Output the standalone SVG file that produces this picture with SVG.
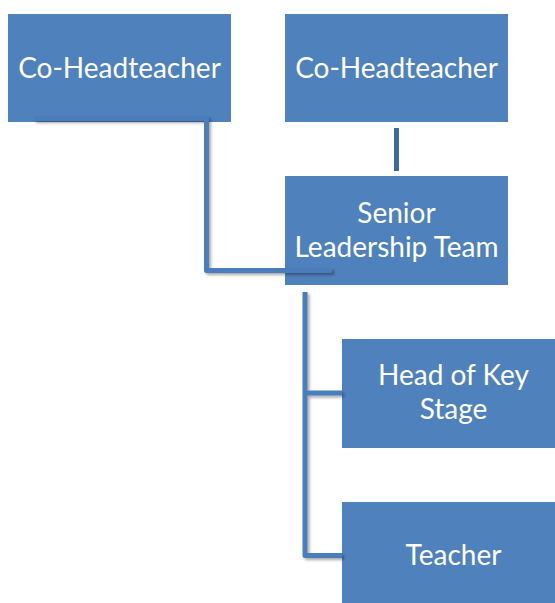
<svg xmlns="http://www.w3.org/2000/svg" width="555" height="603" viewBox="0 0 555 603">
<defs>
<filter id="sh" x="-20%" y="-20%" width="140%" height="140%">
<feGaussianBlur in="SourceAlpha" stdDeviation="1.5"/>
<feOffset dx="1.5" dy="2" result="b"/>
<feComponentTransfer><feFuncA type="linear" slope="0.35"/></feComponentTransfer>
<feMerge><feMergeNode/><feMergeNode in="SourceGraphic"/></feMerge>
</filter>
</defs>
<style>
.box{fill:#4F81BD;}
.t{font-family:Lato,"Open Sans",sans-serif;font-size:28px;fill:#FFFFFF;text-anchor:middle;}
.c{fill:none;stroke:#4A7EBB;stroke-width:5;stroke-linejoin:round;}
.c2{fill:none;stroke:#3D6A9C;stroke-width:5;}
</style>
<rect width="555" height="603" fill="#FFFFFF"/>
<g id="n1"><rect class="box" x="8" y="14" width="223" height="108"/><text class="t" x="119.5" y="78">Co-Headteacher</text></g>
<g id="n2"><rect class="box" x="285" y="14" width="223" height="108"/><text class="t" x="396.5" y="78">Co-Headteacher</text></g>
<g id="n3"><rect class="box" x="285" y="176" width="223" height="109"/><text class="t" x="396.5" y="223">Senior</text><text class="t" x="396.5" y="257">Leadership Team</text></g>
<g id="n4"><rect class="box" x="342" y="339" width="223" height="109"/><text class="t" x="453.5" y="385">Head of Key</text><text class="t" x="453.5" y="419">Stage</text></g>
<g id="n5"><rect class="box" x="342" y="502" width="223" height="110"/><text class="t" x="453.5" y="565">Teacher</text></g>
<g id="connectors">
<path class="c2" d="M396.5 128 V171"/>
<path class="c" filter="url(#sh)" d="M34 118.5 H206.5 V270.5 H332"/>
<path class="c" filter="url(#sh)" d="M305 292 V555.5 H342 M305 393 H342"/>
</g>
</svg>
